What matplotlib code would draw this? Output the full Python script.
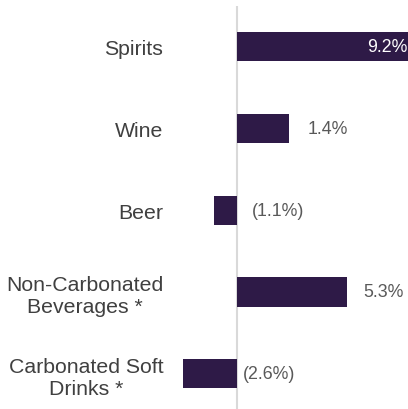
import matplotlib.pyplot as plt

plt.rcParams['font.family'] = ['Liberation Sans', 'DejaVu Sans']

# data
categories = ["Spirits", "Wine", "Beer", "Non-Carbonated\nBeverages *", "Carbonated Soft\nDrinks *"]
bar_values = [9.2, 2.5, -1.1, 5.3, -2.6]   # bar lengths as drawn
value_labels = ["9.2%", "1.4%", "(1.1%)", "5.3%", "(2.6%)"]

BAR_COLOR = '#2e1a47'
fig = plt.figure(figsize=(4.08, 4.10), dpi=100)
ax = fig.add_axes([175 / 408, 0, 233 / 408, 403 / 410])

ypos = list(range(len(categories)))
ax.barh(ypos, bar_values, height=0.355, color=BAR_COLOR, zorder=2)
ax.axvline(0, color='#d9d9d9', linewidth=1.5, zorder=1)

ax.set_xlim(-3.0, 8.22)
ax.set_ylim(4.43, -0.495)

ax.set_yticks(ypos)
ax.set_yticklabels(categories, fontsize=15.3, color='#404040', multialignment='center')
ax.tick_params(axis='y', length=0, pad=8.5)
ax.set_xticks([])
for s in ax.spines.values():
    s.set_visible(False)

# value labels
pads = [None, 18, 15, 16, 6]  # px offsets from bar end / zero line
for i, (v, lab) in enumerate(zip(bar_values, value_labels)):
    if i == 0:
        ax.annotate(lab, (8.22, i), xytext=(-1, 0), textcoords='offset pixels',
                    ha='right', va='center', fontsize=12.8, color='white')
    elif v > 0:
        ax.annotate(lab, (v, i), xytext=(pads[i], 0), textcoords='offset pixels',
                    ha='left', va='center', fontsize=12.8, color='#595959')
    else:
        ax.annotate(lab, (0, i), xytext=(pads[i], 0), textcoords='offset pixels',
                    ha='left', va='center', fontsize=12.8, color='#595959')

plt.savefig('out.png', dpi=100)
